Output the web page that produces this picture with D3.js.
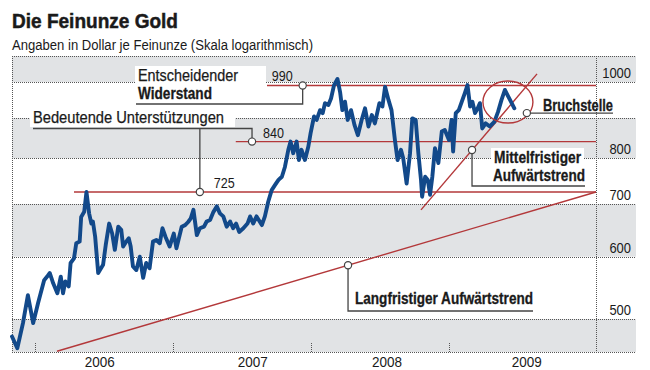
<!DOCTYPE html>
<html>
<head>
<meta charset="utf-8">
<script src="https://cdn.jsdelivr.net/npm/d3@7"></script>
<style>
  body { margin: 0; background: #fff; }
  svg text { font-family: "Liberation Sans", Arial, sans-serif; fill: #1a1a1a; }
</style>
</head>
<body>
<svg id="chart" width="650" height="370"></svg>
<script>
// Goldpreis (Dollar je Feinunze)
var goldDates = ["2005-11-01","2005-11-15","2005-11-30","2005-12-13","2005-12-27","2006-01-09","2006-01-25","2006-02-02","2006-02-09","2006-02-18",
  "2006-03-01","2006-03-10","2006-03-16","2006-03-22","2006-03-31","2006-04-05","2006-04-14","2006-04-20","2006-04-29","2006-05-03",
  "2006-05-11","2006-05-17","2006-05-24","2006-05-30","2006-06-03","2006-06-09","2006-06-17","2006-06-30","2006-07-07","2006-07-16",
  "2006-07-24","2006-07-31","2006-08-09","2006-08-17","2006-08-22","2006-08-30","2006-09-06","2006-09-11","2006-09-17","2006-09-26",
  "2006-10-05","2006-10-14","2006-10-22","2006-10-31","2006-11-09","2006-11-18","2006-11-27","2006-12-04","2006-12-12","2006-12-23",
  "2007-01-03","2007-01-10","2007-01-24","2007-02-02","2007-02-10","2007-02-17","2007-02-24","2007-03-05","2007-03-13","2007-03-24",
  "2007-03-31","2007-04-09","2007-04-18","2007-04-27","2007-05-05","2007-05-14","2007-05-23","2007-06-01","2007-06-09","2007-06-17",
  "2007-06-25","2007-07-06","2007-07-17","2007-07-24","2007-08-01","2007-08-10","2007-08-24","2007-09-01","2007-09-10","2007-09-19",
  "2007-09-28","2007-10-07","2007-10-16","2007-10-24","2007-11-02","2007-11-08","2007-11-15","2007-11-24","2007-11-30","2007-12-07",
  "2007-12-16","2007-12-25","2007-12-31","2008-01-09","2008-01-16","2008-01-25","2008-02-01","2008-02-07","2008-02-16","2008-02-23",
  "2008-03-02","2008-03-11","2008-03-18","2008-03-24","2008-03-31","2008-04-07","2008-04-16","2008-04-25","2008-05-04","2008-05-14",
  "2008-05-23","2008-06-01","2008-06-10","2008-06-18","2008-06-30","2008-07-08","2008-07-15","2008-07-24","2008-08-01","2008-08-10",
  "2008-08-17","2008-08-26","2008-09-01","2008-09-10","2008-09-19","2008-09-25","2008-10-04","2008-10-11","2008-10-18","2008-10-21",
  "2008-10-29","2008-11-05","2008-11-11","2008-11-17","2008-11-24","2008-12-03","2008-12-12","2008-12-20","2008-12-31","2009-01-07",
  "2009-01-11","2009-01-18","2009-01-26","2009-02-03","2009-02-11","2009-02-18","2009-02-25","2009-03-03","2009-03-10","2009-03-17",
  "2009-03-23","2009-03-29","2009-04-07","2009-04-18","2009-04-30","2009-05-10","2009-05-19","2009-05-28","2009-06-06","2009-06-15",
  "2009-06-22"];
var goldPrices = [475,459,494,536,494,524,560,566,572,555,
  539,566,539,558,550,589,597,624,627,674,
  684,725,681,661,665,636,572,586,621,661,
  642,612,655,649,618,627,633,618,583,577,
  600,564,589,580,627,630,624,652,636,618,
  642,615,655,658,664,671,688,639,652,655,
  665,668,684,695,681,675,655,665,652,661,
  645,652,661,675,661,675,658,675,705,729,
  740,751,758,780,820,840,812,840,796,820,
  796,828,861,904,895,921,913,940,935,953,
  991,1009,971,921,944,895,921,882,856,895,
  926,878,908,886,940,931,986,949,921,844,
  796,820,800,743,812,899,895,812,751,715,
  758,751,719,758,824,789,865,869,844,895,
  816,913,921,944,968,991,931,944,913,926,
  940,873,886,878,890,917,949,977,958,940,
  926];

// Achsen
var xDomain = ["2005-11-01", "2010-01-24"];
var yDomain = [454, 1079];
var gridValues = [500, 600, 700, 800, 900, 1000];
var yLabelValues = [500, 600, 700, 800, 1000];
var bands = [[454, 500], [600, 700], [800, 900], [1000, 1079]];
var yearTicks = ["2006-01-01", "2007-01-01", "2008-01-01", "2009-01-01"];
var yearLabels = ["2006", "2007", "2008", "2009"];
var yearLabelDates = ["2006-06-21", "2007-07-31", "2008-07-20", "2009-07-25"];

// Unterstuetzungen / Widerstand
var levelValues = [990, 840, 725];
var levelStarts = ["2007-09-06", "2007-06-16", "2006-04-14"];
var levelMarkers = ["2007-12-10", "2007-07-29", "2007-03-13"];

// Trendlinien
var longTrendDates = ["2006-02-28", "2010-01-24"];
var longTrendValues = [455, 725];
var longTrendMarker = "2008-04-08";
var midTrendDates = ["2008-10-18", "2009-08-21"];
var midTrendValues = [688, 1024];
var midTrendMarker = "2009-03-02";

// Bruchstelle
var breakCenter = ["2009-06-05", 943];
var breakMarker = ["2009-07-25", 913];

var parse = d3.timeParse("%Y-%m-%d");
var red = "#b3383a", blue = "#12498a", grey = "#e1e3e5", dark = "#444";

var svg = d3.select("#chart");
var pLeft = 12, pRight = 596, labelEdge = 636, pTop = 56, pBottom = 352;

var x = d3.scaleTime().domain(xDomain.map(parse)).range([pLeft, pRight]);
var y = d3.scaleLog().domain(yDomain).range([pBottom, pTop]);

// schmale Schrift nachbilden
var squeeze = function(sel, w) {
  sel.attr("textLength", w).attr("lengthAdjust", "spacingAndGlyphs");
};
var heavy = function(sel, sw) {
  sel.style("stroke", "#1a1a1a").style("stroke-width", sw).style("paint-order", "stroke");
};

// Titel
svg.append("text").attr("x", 12).attr("y", 28)
  .style("font-size", "21px").style("font-weight", "bold")
  .text("Die Feinunze Gold").call(squeeze, 166).call(heavy, 0.5);
svg.append("text").attr("x", 12).attr("y", 50)
  .style("font-size", "14px")
  .text("Angaben in Dollar je Feinunze (Skala logarithmisch)").call(squeeze, 301);

// graue Baender
svg.selectAll("rect.band").data(bands).enter().append("rect")
  .attr("class", "band")
  .attr("x", pLeft).attr("width", labelEdge - pLeft)
  .attr("y", function(d) { return y(d[1]); })
  .attr("height", function(d) { return y(d[0]) - y(d[1]); })
  .attr("fill", grey);

// gepunktete Linien
var dotted = function(sel) {
  return sel.attr("stroke", "#555").attr("stroke-width", 1).attr("stroke-dasharray", "1,1");
};
svg.selectAll("line.grid").data(gridValues.concat(yDomain)).enter().append("line")
  .attr("class", "grid")
  .attr("x1", pLeft).attr("x2", labelEdge)
  .attr("y1", function(d) { return Math.round(y(d)) + 0.5; })
  .attr("y2", function(d) { return Math.round(y(d)) + 0.5; })
  .call(dotted);
svg.selectAll("line.vborder").data(xDomain).enter().append("line")
  .attr("class", "vborder")
  .attr("x1", function(d) { return Math.round(x(parse(d))) + 0.5; })
  .attr("x2", function(d) { return Math.round(x(parse(d))) + 0.5; })
  .attr("y1", pTop).attr("y2", pBottom)
  .call(dotted);
svg.selectAll("line.ytick").data(yearTicks).enter().append("line")
  .attr("class", "ytick")
  .attr("x1", function(d) { return Math.round(x(parse(d))) + 0.5; })
  .attr("x2", function(d) { return Math.round(x(parse(d))) + 0.5; })
  .attr("y1", pBottom - 9).attr("y2", pBottom)
  .call(dotted);

// Achsenbeschriftung
svg.selectAll("text.ylab").data(yLabelValues).enter().append("text")
  .attr("class", "ylab")
  .attr("x", 631).attr("y", function(d) { return y(d) - 4; })
  .attr("text-anchor", "end").style("font-size", "14.5px")
  .attr("textLength", function(d) { return String(d).length * 7.2; })
  .attr("lengthAdjust", "spacingAndGlyphs")
  .text(function(d) { return d; });
svg.selectAll("text.xlab").data(yearLabels).enter().append("text")
  .attr("class", "xlab")
  .attr("x", function(d, i) { return x(parse(yearLabelDates[i])); })
  .attr("y", 367).attr("text-anchor", "middle").style("font-size", "14.5px")
  .attr("textLength", 30).attr("lengthAdjust", "spacingAndGlyphs")
  .text(function(d) { return d; });

// horizontale Marken
svg.selectAll("line.level").data(levelValues).enter().append("line")
  .attr("class", "level")
  .attr("x1", function(d, i) { return x(parse(levelStarts[i])); })
  .attr("x2", pRight)
  .attr("y1", function(d) { return y(d); })
  .attr("y2", function(d) { return y(d); })
  .attr("stroke", red).attr("stroke-width", 1.4);

// Trendlinien
var trend = function(dates, values) {
  svg.append("line")
    .attr("x1", x(parse(dates[0]))).attr("y1", y(values[0]))
    .attr("x2", x(parse(dates[1]))).attr("y2", y(values[1]))
    .attr("stroke", red).attr("stroke-width", 1.4);
};
trend(longTrendDates, longTrendValues);
trend(midTrendDates, midTrendValues);

// Goldkurs
var gold = d3.zip(goldDates, goldPrices).map(function(d) { return {date: parse(d[0]), price: d[1]}; });
var line = d3.line()
  .x(function(d) { return x(d.date); })
  .y(function(d) { return y(d.price); });
svg.append("path").datum(gold)
  .attr("d", line)
  .attr("fill", "none").attr("stroke", blue)
  .attr("stroke-width", 3.9).attr("stroke-linejoin", "round").attr("stroke-linecap", "round");

// Bruchstelle
svg.append("ellipse")
  .attr("cx", x(parse(breakCenter[0]))).attr("cy", y(breakCenter[1]))
  .attr("rx", 25).attr("ry", 21)
  .attr("fill", "none").attr("stroke", red).attr("stroke-width", 1.4);

// Punkt auf Trendlinie
var onTrend = function(dates, values, date) {
  var px = x(parse(date));
  var x0 = x(parse(dates[0])), x1 = x(parse(dates[1]));
  var t = (px - x0) / (x1 - x0);
  return [px, y(values[0]) + t * (y(values[1]) - y(values[0]))];
};

// Beschriftung mit weissem Hintergrund
var label = function(tx, ty, str, bold, w, box) {
  var g = svg.append("g");
  var t = g.append("text").attr("x", tx).attr("y", ty)
    .style("font-size", "16px")
    .style("font-weight", bold ? "bold" : "normal")
    .text(str).call(squeeze, w).call(heavy, bold ? 0.3 : 0.25);
  if (box) {
    var b = t.node().getBBox();
    g.insert("rect", "text")
      .attr("x", tx - 3).attr("y", b.y - 1)
      .attr("width", w + 6 + (box.extra || 0)).attr("height", b.height + 2)
      .attr("fill", "#fff");
  }
  return t;
};
var leader = function(points) {
  svg.append("path")
    .attr("d", d3.line()(points))
    .attr("fill", "none").attr("stroke", dark).attr("stroke-width", 1.3);
};
var marker = function(p) {
  svg.append("circle").attr("cx", p[0]).attr("cy", p[1]).attr("r", 3.6)
    .attr("fill", "#fff").attr("stroke", dark).attr("stroke-width", 1.2);
};

// Widerstand 990
label(138, 81, "Entscheidender", false, 100, {extra: 25});
label(138, 99, "Widerstand", true, 74, {extra: 52});
var m990 = [x(parse(levelMarkers[0])), y(levelValues[0])];
leader([[m990[0], m990[1]], [m990[0], 104], [136, 104]]);

// Unterstuetzungen 840 / 725
label(33, 123, "Bedeutende Unterstützungen", false, 191, {extra: 8});
var m840 = [x(parse(levelMarkers[1])), y(levelValues[1])];
var m725 = [x(parse(levelMarkers[2])), y(levelValues[2])];
leader([[m840[0], m840[1]], [m840[0], 128.5], [33, 128.5]]);
leader([[m725[0], 128.5], [m725[0], m725[1]]]);

// Zahlen an den Linien
svg.selectAll("text.lvl").data(levelValues).enter().append("text")
  .attr("class", "lvl")
  .attr("x", function(d, i) { return x(parse(levelMarkers[i])) + [-31, 11, 14][i]; })
  .attr("y", function(d) { return y(d) - 4; })
  .style("font-size", "14.5px")
  .attr("textLength", 21).attr("lengthAdjust", "spacingAndGlyphs")
  .text(function(d) { return d; });

// Mittelfristiger Aufwaertstrend
label(494, 163, "Mittelfristiger", true, 87, {extra: 0});
label(493, 181, "Aufwärtstrend", true, 92, {});
var mMid = onTrend(midTrendDates, midTrendValues, midTrendMarker);
leader([[mMid[0], mMid[1]], [mMid[0], 186], [585, 186]]);

// Langfristiger Aufwaertstrend
label(355, 304, "Langfristiger Aufwärtstrend", true, 178, null);
var mLong = onTrend(longTrendDates, longTrendValues, longTrendMarker);
leader([[mLong[0], mLong[1]], [mLong[0], 311], [533, 311]]);

// Bruchstelle
label(543, 111, "Bruchstelle", true, 70, null);
var mBreak = [x(parse(breakMarker[0])), y(breakMarker[1])];
leader([[mBreak[0], mBreak[1]], [613, mBreak[1]]]);

[m990, m840, m725, mMid, mLong, mBreak].forEach(marker);
</script>
</body>
</html>
